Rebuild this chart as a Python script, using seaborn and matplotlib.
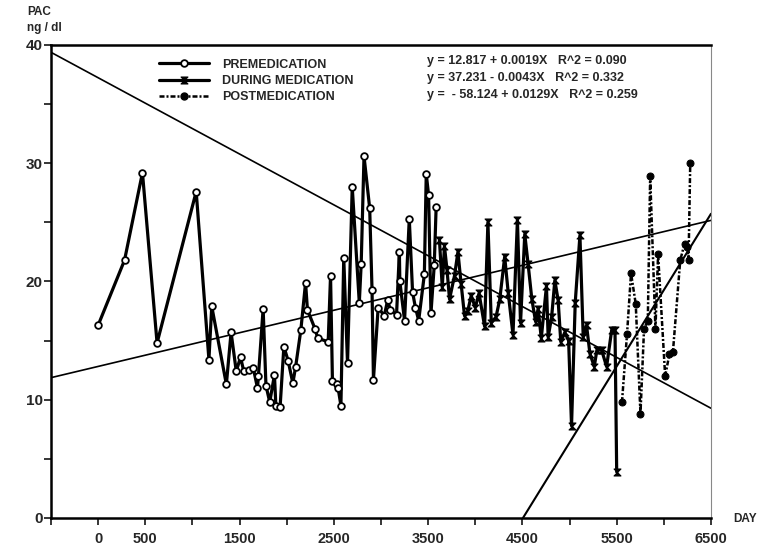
import numpy as np
import pandas as pd
import matplotlib
matplotlib.use("Agg")
import matplotlib.pyplot as plt
from matplotlib.lines import Line2D
from matplotlib.path import Path
import seaborn as sns

# ---- data ----
pre_day = [0, 280, 470, 625, 1040, 1175, 1205, 1360, 1410, 1465, 1510, 1545, 1600, 1645, 1690,
           1700, 1750, 1780, 1820, 1870, 1885, 1930, 1970, 2015, 2065, 2095, 2150, 2200, 2220, 2300,
           2330, 2440, 2465, 2485, 2530, 2545, 2575, 2605, 2645, 2695, 2770, 2790, 2820, 2880, 2905,
           2920, 2970, 3035, 3070, 3100, 3165, 3195, 3200, 3250, 3300, 3335, 3365, 3400, 3460, 3480,
           3505, 3530, 3565, 3585]
pre_pac = [16.3, 21.8, 29.2, 14.8, 27.6, 13.4, 17.9, 11.3, 15.7, 12.4, 13.6, 12.4, 12.5, 12.7, 11.0,
           12.0, 17.7, 11.2, 9.8, 12.1, 9.5, 9.4, 14.5, 13.3, 11.4, 12.8, 15.9, 19.9, 17.6, 16.0,
           15.2, 14.9, 20.5, 11.6, 11.3, 11.0, 9.5, 22.0, 13.1, 28.0, 18.2, 21.5, 30.6, 26.2, 19.3,
           11.7, 17.8, 17.1, 18.4, 17.6, 17.2, 22.5, 20.0, 16.7, 25.3, 19.1, 17.8, 16.7, 20.6, 29.1,
           27.3, 17.3, 21.4, 26.3]

dur_day = [3620, 3650, 3673, 3700, 3727, 3780, 3816, 3850, 3886, 3920, 3957, 4000, 4040, 4099, 4134,
           4170, 4220, 4260, 4312, 4350, 4400, 4447, 4480, 4525, 4560, 4600, 4640, 4667, 4700, 4755,
           4773, 4810, 4844, 4879, 4907, 4950, 4990, 5021, 5060, 5110, 5145, 5180, 5216, 5262, 5290,
           5340, 5393, 5447, 5482, 5500]
dur_pac = [23.5, 19.5, 23.0, 21.0, 18.5, 20.5, 22.5, 19.8, 17.1, 17.5, 18.8, 17.8, 19.0, 16.2, 25.0,
           16.5, 17.0, 18.5, 22.1, 19.0, 15.5, 25.2, 16.5, 24.0, 21.5, 18.5, 16.6, 17.7, 15.2, 19.6,
           15.3, 17.0, 20.1, 18.4, 14.9, 15.7, 15.0, 7.8, 18.2, 23.9, 15.3, 16.3, 13.9, 12.8, 14.2,
           14.2, 12.8, 15.9, 15.9, 3.9]

post_day = [5556, 5610, 5652, 5702, 5752, 5790, 5830, 5855, 5911, 5939, 6014, 6060, 6096, 6174,
            6220, 6250, 6262, 6280]
post_pac = [9.8, 15.6, 20.7, 18.1, 8.8, 16.0, 16.7, 28.9, 16.0, 22.3, 12.0, 13.9, 14.0, 21.8,
            23.2, 22.9, 21.8, 30.0]

# regression lines as printed on the chart
intercepts = [12.817, 37.231, -58.124]
slopes = [0.0019, -0.0043, 0.0129]
phases = ["PREMEDICATION", "DURING MEDICATION", "POSTMEDICATION"]
equations = ["y = 12.817 + 0.0019X   R^2 = 0.090",
             "y = 37.231 - 0.0043X   R^2 = 0.332",
             "y =  - 58.124 + 0.0129X   R^2 = 0.259"]
xtick_vals = [0, 500, 1500, 2500, 3500, 4500, 5500, 6500]

df = pd.concat([
    pd.DataFrame({"day": pre_day, "pac": pre_pac, "phase": phases[0]}),
    pd.DataFrame({"day": dur_day, "pac": dur_pac, "phase": phases[1]}),
    pd.DataFrame({"day": post_day, "pac": post_pac, "phase": phases[2]}),
])

sns.set_style("ticks")
plt.rcParams["font.family"] = ["Liberation Sans", "DejaVu Sans"]
plt.rcParams["font.weight"] = "bold"

fig = plt.figure(figsize=(7.6, 5.5), dpi=100)
ax = fig.add_axes([0.0671, 0.0582, 0.8684, 0.8600])

# hourglass marker for "during medication"
hourglass = Path([(-1, 1), (1, 1), (-1, -1), (1, -1), (-1, 1)],
                 [Path.MOVETO, Path.LINETO, Path.LINETO, Path.LINETO, Path.CLOSEPOLY])

styles = {
    phases[0]: dict(marker="o", markersize=4.8, markerfacecolor="white",
                    markeredgecolor="black", markeredgewidth=1.3, linewidth=2.3, linestyle="-"),
    phases[1]: dict(marker=hourglass, markersize=5, markerfacecolor="black",
                    markeredgecolor="black", markeredgewidth=0.8, linewidth=2.3, linestyle="-"),
    phases[2]: dict(marker="o", markersize=5, markerfacecolor="black",
                    markeredgecolor="black", linewidth=1.8, linestyle=(0, (2.0, 0.8, 0.8, 0.8))),
}

for ph in phases:
    sub = df[df["phase"] == ph]
    sns.lineplot(data=sub, x="day", y="pac", ax=ax, color="black", sort=False,
                 estimator=None, legend=False, **styles[ph])

# regression lines
xx = np.array([-500, 6500])
for b0, b1 in zip(intercepts[:2], slopes[:2]):
    ax.plot(xx, b0 + b1 * xx, color="black", lw=1.2, zorder=1)
x0 = -intercepts[2] / slopes[2]
xp = np.array([x0, 6500])
ax.plot(xp, intercepts[2] + slopes[2] * xp, color="black", lw=1.5, zorder=1)

ax.set_xlim(-500, 6500)
ax.set_ylim(0, 40)

# axis ticks
ax.set_xticks(xtick_vals)
ax.set_xticklabels([str(v) for v in xtick_vals], fontsize=10.5, fontweight="bold")
ax.set_xticks(np.arange(-500, 6501, 500), minor=True)
ax.set_yticks([0, 10, 20, 30, 40])
ax.set_yticklabels(["0", "10", "20", "30", "40"], fontsize=11, fontweight="bold")
ax.set_yticks([5, 15, 25, 35], minor=True)
ax.tick_params(axis="x", which="both", direction="out", length=5, width=1.3, pad=5)
ax.tick_params(axis="y", which="both", direction="out", length=5, width=1.3, pad=1)
ax.set_xlabel("")
ax.set_ylabel("")

for side in ["left", "bottom", "top"]:
    ax.spines[side].set_linewidth(1.8)
    ax.spines[side].set_color("black")
ax.spines["right"].set_linewidth(0.8)
ax.spines["right"].set_color("#888888")

# axis titles
fig.text(27 / 760, 1 - 12 / 550, "PAC", fontsize=8.5, fontweight="bold", va="center", ha="left")
fig.text(27 / 760, 1 - 28 / 550, "ng / dl", fontsize=8.5, fontweight="bold", va="center", ha="left")
fig.text(733 / 760, 1 - 519 / 550, "DAY", fontsize=8.5, fontweight="bold", va="center", ha="left")

# legend
handles = [Line2D([], [], color="black", **styles[ph]) for ph in phases]
leg = ax.legend(handles, phases, loc="upper left", bbox_to_anchor=(0.147, 0.995),
                frameon=False, handlelength=4.0, handletextpad=1.0, labelspacing=0.35,
                numpoints=1, prop={"size": 9, "weight": "bold"})

row_y = [0.966, 0.930, 0.894]
for eq, yy in zip(equations, row_y):
    ax.text(0.570, yy, eq, transform=ax.transAxes, fontsize=9, fontweight="bold",
            va="center", ha="left")

fig.savefig("out.png", dpi=100)
